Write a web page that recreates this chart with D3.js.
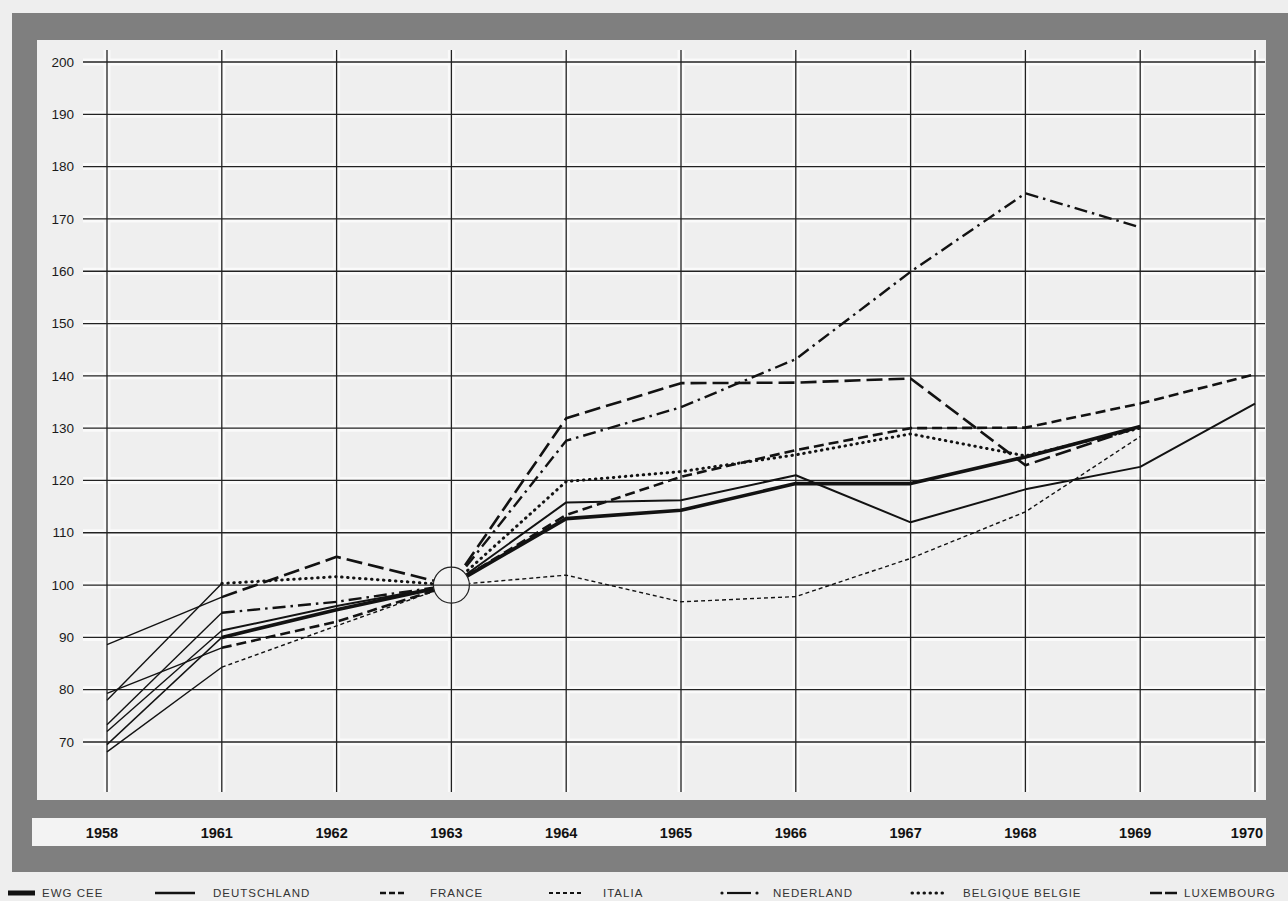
<!DOCTYPE html>
<html><head><meta charset="utf-8">
<script src="https://cdn.jsdelivr.net/npm/d3@7"></script>
<style>html,body{margin:0;padding:0;background:#eeeeee;} svg{display:block}</style>
</head><body><svg id="c" width="1288" height="901"></svg>
<script>
// ---- data (index 1963 = 100) ----
const years = ["1958","1961","1962","1963","1964","1965","1966","1967","1968","1969","1970"];
const yTicks = [70,80,90,100,110,120,130,140,150,160,170,180,190,200];
const seriesNames = ["EWG CEE","DEUTSCHLAND","FRANCE","ITALIA","NEDERLAND","BELGIQUE BELGIE","LUXEMBOURG"];
const ewg        = [69.5, 90.0, 95.3, 100, 112.7, 114.3, 119.4, 119.4, 124.5, 130.3, null];
const deutschland= [72.0, 91.3, 96.0, 100, 115.8, 116.2, 121.0, 112.0, 118.3, 122.6, 134.7];
const france     = [79.3, 88.0, 93.0, 100, 113.4, 120.7, 125.8, 130.0, 130.1, 134.7, 140.3];
const italia     = [68.1, 84.3, 92.2, 100, 101.9, 96.8, 97.8, 105.1, 114.0, 128.4, null];
const nederland  = [73.3, 94.7, 96.8, 100, 127.6, 134.0, 143.2, 159.9, 174.9, 168.4, null];
const belgique   = [78.0, 100.3, 101.6, 100, 119.8, 121.7, 124.9, 128.9, 124.7, 130.0, null];
const luxembourg = [88.6, 97.7, 105.4, 100, 131.9, 138.6, 138.7, 139.5, 122.9, 130.3, null];
const seriesValues = [ewg, deutschland, france, italia, nederland, belgique, luxembourg];

// ---- styles ----
const styles = [
  {w:3.6, dash:null, cap:"butt"},
  {w:2.0, dash:null, cap:"butt"},
  {w:2.6, dash:"10,5", cap:"butt"},
  {w:1.4, dash:"4,3", cap:"butt"},
  {w:2.4, dash:"13,5,2.5,5", cap:"butt"},
  {w:3.0, dash:"0.5,5.5", cap:"round"},
  {w:2.6, dash:"16,6", cap:"butt"}
];

const svg = d3.select("#c");
const ink = "#121212";

// background frame
svg.append("rect").attr("x",0).attr("y",0).attr("width",1288).attr("height",901).attr("fill","#eeeeee");
svg.append("rect").attr("x",12).attr("y",13).attr("width",1276).attr("height",859).attr("fill","#7f7f7f");
svg.append("rect").attr("x",37).attr("y",40).attr("width",1229).attr("height",760).attr("fill","#efefef");
svg.append("rect").attr("x",32).attr("y",818).attr("width",1234).attr("height",28).attr("fill","#f3f3f3");

const x = d3.scalePoint().domain(years).range([107,1255]);
const y = d3.scaleLinear().domain([70,200]).range([742,62]);

const gx0 = 83, gx1 = 1265, gy0 = 50, gy1 = 792;
const grid = svg.append("g");
// white halos
grid.selectAll("line.hh").data(yTicks).join("line")
  .attr("x1",gx0).attr("x2",gx1).attr("y1",d=>y(d)).attr("y2",d=>y(d))
  .attr("stroke","#fafafa").attr("stroke-width",7);
grid.selectAll("line.vh").data(years).join("line")
  .attr("x1",d=>x(d)).attr("x2",d=>x(d)).attr("y1",gy0).attr("y2",gy1)
  .attr("stroke","#fafafa").attr("stroke-width",7);
grid.selectAll("line.h").data(yTicks).join("line")
  .attr("x1",gx0).attr("x2",gx1).attr("y1",d=>y(d)).attr("y2",d=>y(d))
  .attr("stroke","#222").attr("stroke-width",1.3);
grid.selectAll("line.v").data(years).join("line")
  .attr("x1",d=>x(d)).attr("x2",d=>x(d)).attr("y1",gy0).attr("y2",gy1)
  .attr("stroke","#222").attr("stroke-width",1.3);

// y labels
svg.append("g").selectAll("text").data(yTicks).join("text")
  .attr("x",74).attr("y",d=>y(d)).attr("dy","0.35em")
  .attr("text-anchor","end").attr("font-family","Liberation Sans, Arial, sans-serif")
  .attr("font-size",13.5).attr("fill","#1a1a1a").text(d=>d);

// x labels
svg.append("g").selectAll("text").data(years).join("text")
  .attr("x",(d,i)=> i===years.length-1 ? x(d)-8 : x(d)-5)
  .attr("y",833).attr("dy","0.35em")
  .attr("text-anchor","middle").attr("font-family","Liberation Sans Narrow, Arial Narrow, Liberation Sans, sans-serif")
  .attr("font-weight","bold").attr("font-size",14.5).attr("fill","#111").text(d=>d);

// lines
const line = d3.line().defined(d=>d.v!=null).x(d=>x(d.year)).y(d=>y(d.v));
const lg = svg.append("g");
seriesValues.forEach((vals,i)=>{
  const pts = vals.map((v,j)=>({year:years[j], v:v}));
  // 1958-1961 drawn thin solid
  lg.append("path").attr("d",line(pts.slice(0,2))).attr("fill","none")
    .attr("stroke",ink).attr("stroke-width",1.4);
  const st = styles[i];
  lg.append("path").attr("d",line(pts.slice(1))).attr("fill","none")
    .attr("stroke",ink).attr("stroke-width",st.w)
    .attr("stroke-dasharray",st.dash).attr("stroke-linecap",st.cap)
    .attr("stroke-linejoin","round");
});

// base circle at 1963 = 100
const cx = x("1963"), cy = y(100), r = 18;
svg.append("circle").attr("cx",cx).attr("cy",cy).attr("r",r).attr("fill","#f2f2f2")
  .attr("stroke","#222").attr("stroke-width",1.2);
svg.append("line").attr("x1",cx-r).attr("x2",cx+r).attr("y1",cy).attr("y2",cy).attr("stroke","#2a2a2a").attr("stroke-width",1.1);
svg.append("line").attr("x1",cx).attr("x2",cx).attr("y1",cy-r).attr("y2",cy+r).attr("stroke","#2a2a2a").attr("stroke-width",1.1);

// legend
const legX = [8,155,380,549,720,912,1150];
const legTX = [42,213,430,603,773,963,1184];
const legW = [27,40,25,32,42,34,27];
const legY = 893;
const leg = svg.append("g");
seriesNames.forEach((name,i)=>{
  const st = styles[i];
  if(i===4){
    leg.append("circle").attr("cx",legX[i]+2).attr("cy",legY).attr("r",1.6).attr("fill",ink);
    leg.append("line").attr("x1",legX[i]+7).attr("x2",legX[i]+31).attr("y1",legY).attr("y2",legY).attr("stroke",ink).attr("stroke-width",2.2);
    leg.append("circle").attr("cx",legX[i]+37).attr("cy",legY).attr("r",1.6).attr("fill",ink);
  } else {
    let dash = st.dash;
    if(i===2) dash = "6,3";
    if(i===6) dash = "12,3";
    leg.append("line").attr("x1",legX[i]).attr("x2",legX[i]+legW[i]).attr("y1",legY).attr("y2",legY)
      .attr("stroke",ink).attr("stroke-width", i===0?5:(i===1?2.6:(i===3?1.8:st.w)))
      .attr("stroke-dasharray",dash).attr("stroke-linecap",st.cap);
  }
  leg.append("text").attr("x",legTX[i]).attr("y",legY).attr("dy","0.35em")
    .attr("font-family","Liberation Sans, Arial, sans-serif").attr("font-size",11.5)
    .attr("letter-spacing","1px").attr("fill","#333").text(name);
});
</script></body></html>
